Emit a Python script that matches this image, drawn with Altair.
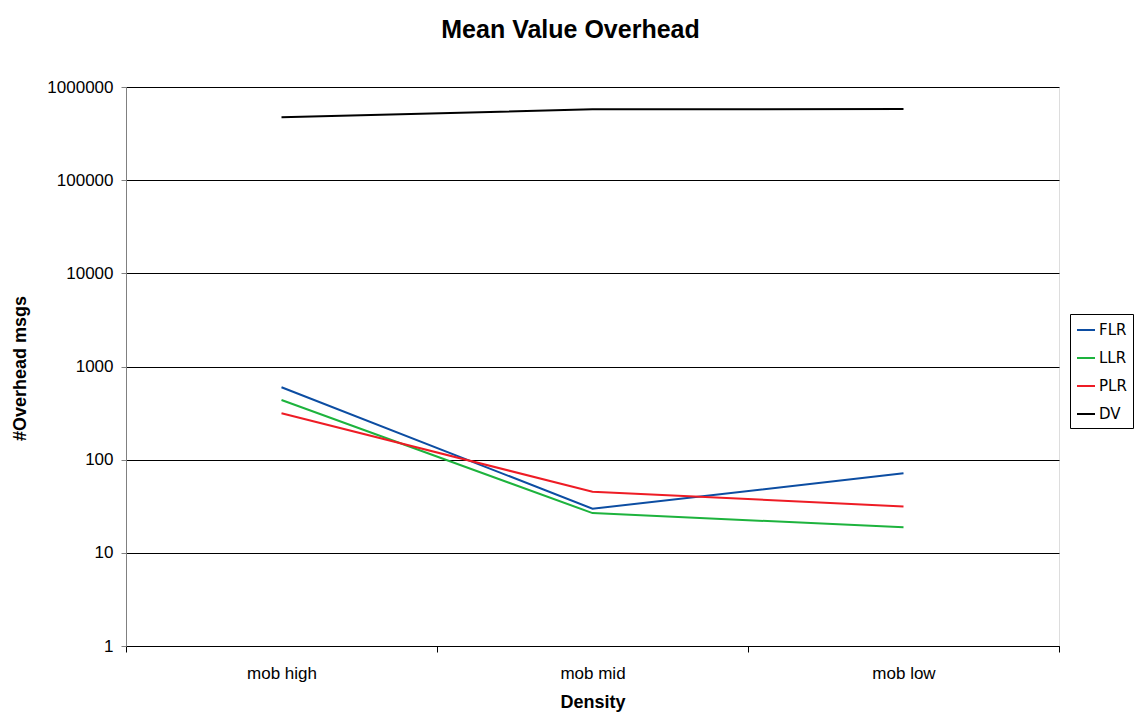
import altair as alt
import pandas as pd

categories = ["mob high", "mob mid", "mob low"]
series_names = ["FLR", "LLR", "PLR", "DV"]
series_colors = ["#0c4da2", "#1db33d", "#ee1c25", "#000000"]

FLR = [598, 29.8, 71.4]
LLR = [437, 26.7, 18.8]
PLR = [315, 45.3, 31.5]
DV = [474000, 576000, 581000]

y_ticks = [1, 10, 100, 1000, 10000, 100000, 1000000]

rows = []
for name, vals in zip(series_names, [FLR, LLR, PLR, DV]):
    for c, v in zip(categories, vals):
        rows.append({"Density": c, "series": name, "value": v})
df = pd.DataFrame(rows)

FONT = "Liberation Sans"

chart = alt.Chart(df).mark_line(strokeWidth=2).encode(
    x=alt.X(
        "Density:N",
        sort=categories,
        scale=alt.Scale(type="band", paddingInner=0, paddingOuter=0),
        bandPosition=0.5,
        axis=alt.Axis(
            title="Density", labelAngle=0, tickBand="extent", grid=False,
            domainColor="black", tickColor="black", tickSize=6,
            labelFont=FONT, labelFontSize=17, labelPadding=13, labelColor="black",
            titleFont=FONT, titleFontSize=18, titleFontWeight="bold",
            titlePadding=12, titleColor="black",
        ),
    ),
    y=alt.Y(
        "value:Q",
        scale=alt.Scale(type="log", domain=[1, 1000000], nice=False),
        axis=alt.Axis(
            title="#Overhead msgs", values=y_ticks, format="d",
            grid=True, gridColor="black", gridOpacity=1, gridWidth=1,
            domainColor="#808080", tickColor="#808080", tickSize=5,
            labelFont=FONT, labelFontSize=17, labelPadding=8, labelColor="black",
            titleFont=FONT, titleFontSize=18, titleFontWeight="bold", titleColor="black",
            titleX=-106, titleY=281, titleAlign="center", titleBaseline="middle", titleAngle=-90,
        ),
    ),
    color=alt.Color(
        "series:N",
        sort=series_names,
        scale=alt.Scale(domain=series_names, range=series_colors),
        legend=alt.Legend(
            title=None, orient="none", legendX=944, legendY=227,
            strokeColor="black", fillColor="white", padding=6,
            symbolType="stroke", symbolSize=324, symbolStrokeWidth=2,
            labelFont="DejaVu Sans", labelFontSize=15, labelColor="black",
            rowPadding=10, labelOffset=3,
        ),
    ),
).properties(
    width=933,
    height=559,
    title=alt.TitleParams(
        "Mean Value Overhead", font=FONT, fontSize=25, fontWeight="bold",
        anchor="middle", dx=-22, offset=35, color="black",
    ),
    padding={"left": 118, "top": 79, "right": 77, "bottom": 66},
    autosize=alt.AutoSizeParams(type="none"),
).configure_view(
    stroke="#808080", strokeWidth=1,
).configure(background="white")

chart.save("out.html", embed_options={"renderer": "svg", "actions": False})
